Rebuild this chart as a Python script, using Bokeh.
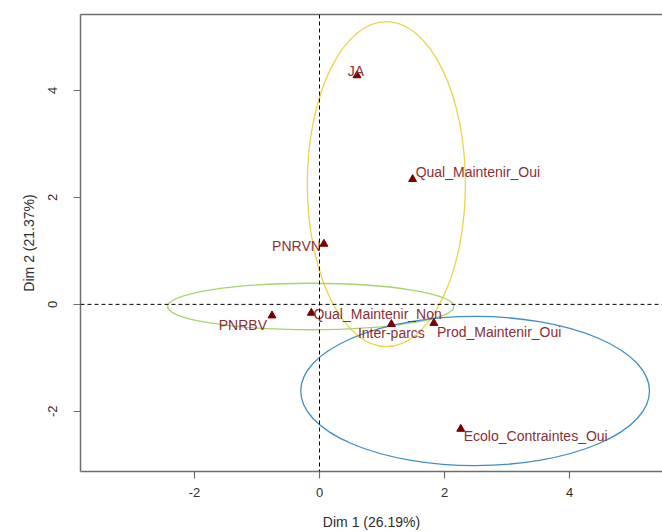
from bokeh.plotting import figure
from bokeh.models import ColumnDataSource, Span, LinearAxis, FixedTicker, Range1d
from bokeh.core.properties import value
from bokeh.embed import file_html
from bokeh.resources import INLINE

# ---- data ----
labels = ["JA", "Qual_Maintenir_Oui", "PNRVN", "PNRBV", "Qual_Maintenir_Non",
          "Inter-parcs", "Prod_Maintenir_Oui", "Ecolo_Contraintes_Oui"]
dim1 = [0.60, 1.49, 0.07, -0.76, -0.13, 1.15, 1.83, 2.26]
dim2 = [4.28, 2.34, 1.13, -0.21, -0.16, -0.37, -0.35, -2.33]

ell_x = [1.07, -0.14, 2.49]
ell_y = [2.25, -0.04, -1.62]
ell_w = [2.53, 4.58, 5.58]
ell_h = [6.08, 0.87, 2.79]
ell_colors = ["#EDD24C", "#A8D46F", "#3F8FC4"]

ticks = [-2, 0, 2, 4]
tick_text = ["-2", "0", "2", "4"]
xlabel = "Dim 1 (26.19%)"
ylabel = "Dim 2 (21.37%)"

# label placement (screen px offsets, alignment) - layout only
lab_dx = [-1, 3, -3, -5, 2, 0, 3, 3]
lab_dy = [-4, -7, 2, 9, 1, 9, 9, 7]
lab_align = ["center", "left", "right", "right", "left", "center", "left", "left"]

FONT = "Liberation Sans"
GRAY = "#6e6e6e"

p = figure(width=662, height=532, output_backend="svg", toolbar_location=None,
           x_range=Range1d(-3.824, 5.488), y_range=Range1d(-3.125, 5.42),
           min_border_left=80, min_border_top=14, min_border_right=0, min_border_bottom=60,
           x_axis_label=xlabel, y_axis_label=ylabel)
p.background_fill_color = "white"
p.border_fill_color = "white"
p.outline_line_color = None
p.xgrid.visible = False
p.ygrid.visible = False

for ax in (p.xaxis[0], p.yaxis[0]):
    ax.ticker = FixedTicker(ticks=ticks)
    ax.major_label_overrides = {t: s for t, s in zip(ticks, tick_text)}
    ax.axis_line_color = GRAY
    ax.axis_line_width = 1.5
    ax.major_tick_line_color = GRAY
    ax.major_tick_line_width = 1.2
    ax.major_tick_out = 7
    ax.major_tick_in = 0
    ax.minor_tick_line_color = None
    ax.major_label_text_font = FONT
    ax.major_label_text_font_size = "13px"
    ax.major_label_text_color = "#2e2e2e"
    ax.axis_label_text_font = FONT
    ax.axis_label_text_font_size = "14px"
    ax.axis_label_text_font_style = "normal"
    ax.axis_label_text_color = "#2e2e2e"

p.xaxis[0].major_label_standoff = 9
p.xaxis[0].axis_label_standoff = 14
p.yaxis[0].major_label_orientation = "vertical"
p.yaxis[0].major_label_standoff = 16
p.yaxis[0].axis_label_standoff = 9

top = LinearAxis(ticker=FixedTicker(ticks=[]), axis_line_color=GRAY, axis_line_width=1.5,
                 major_tick_line_color=None, minor_tick_line_color=None,
                 major_label_text_font_size="0px", major_tick_out=0, major_label_standoff=0)
p.add_layout(top, "above")

# ellipses
p.ellipse(x=ell_x, y=ell_y, width=ell_w, height=ell_h, fill_color=None,
          line_color=ell_colors, line_width=1.3)

# dashed reference lines
p.add_layout(Span(location=0, dimension="height", line_color="black",
                  line_dash="4 3", line_width=1))
p.add_layout(Span(location=0, dimension="width", line_color="black",
                  line_dash="4 3", line_width=1))

src = ColumnDataSource(dict(x=dim1, y=dim2, text=labels, dx=lab_dx, dy=lab_dy, align=lab_align))
p.scatter("x", "y", source=src, marker="triangle", size=8,
          fill_color="#7a0000", line_color="#7a0000")
p.text("x", "y", text="text", source=src, x_offset="dx", y_offset="dy",
       text_align="align", text_baseline="middle",
       text_font=value(FONT), text_font_size="14px", text_color="#8a2f35")

open("out.html", "w").write(file_html(p, INLINE))
